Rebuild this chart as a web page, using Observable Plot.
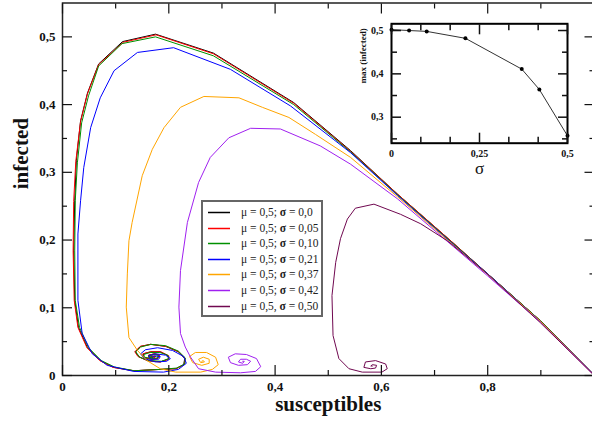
<!DOCTYPE html>
<html><head><meta charset="utf-8">
<script src="https://cdn.jsdelivr.net/npm/d3@7"></script>
<script src="https://cdn.jsdelivr.net/npm/@observablehq/plot@0.6"></script>
<style>
body{margin:0;background:#fff;}
#wrap{position:relative;width:592px;height:424px;overflow:hidden;background:#fff;}
#wrap > svg{position:absolute;}
#legend{position:absolute;left:201px;top:200px;width:122px;height:117px;border:2px solid #666;box-sizing:border-box;background:#fff;font-family:'Liberation Serif','Times New Roman',serif;font-size:11.5px;color:#222;}
#legend svg{position:absolute;left:5px;width:22px;height:4px;overflow:visible;}
#legend .tx{position:absolute;left:38px;line-height:12px;white-space:nowrap;}
</style></head><body><div id="wrap"></div>
<script>
// ---- data ----
const sigmaValues = [0, 0.05, 0.10, 0.21, 0.37, 0.42, 0.50];
const legendLabels = ["μ = 0,5; σ = 0,0", "μ = 0,5; σ = 0,05", "μ = 0,5; σ = 0,10", "μ = 0,5; σ = 0,21", "μ = 0,5; σ = 0,37", "μ = 0,5; σ = 0,42", "μ = 0,5, σ = 0,50"];
const seriesColors = ["#000000", "#ff0000", "#009000", "#0000ff", "#ffa500", "#a020f0", "#700850"];
const maxInfected = [0.502, 0.500, 0.498, 0.482, 0.411, 0.364, 0.257];

const curveSigma000 = [[1.000,0.001],[0.899,0.081],[0.800,0.150],[0.736,0.195],[0.630,0.268],[0.542,0.332],[0.435,0.403],[0.284,0.476],[0.175,0.504],[0.113,0.493],[0.068,0.460],[0.047,0.417],[0.034,0.376],[0.026,0.317],[0.023,0.258],[0.021,0.184],[0.023,0.111],[0.030,0.071],[0.047,0.041],[0.071,0.022],[0.096,0.012],[0.134,0.007],[0.184,0.009],[0.213,0.010],[0.228,0.016],[0.230,0.025],[0.218,0.035],[0.194,0.043],[0.166,0.046],[0.147,0.043],[0.137,0.035],[0.143,0.028],[0.160,0.022],[0.184,0.020],[0.199,0.024],[0.199,0.029],[0.184,0.035],[0.166,0.035],[0.152,0.032],[0.152,0.027],[0.166,0.024],[0.179,0.025],[0.182,0.030],[0.173,0.032],[0.162,0.030],[0.162,0.027],[0.171,0.026],[0.175,0.028],[0.167,0.029],[0.166,0.027]];
const curveSigma005 = [[1.000,0.001],[0.899,0.081],[0.800,0.150],[0.736,0.195],[0.630,0.268],[0.542,0.331],[0.435,0.402],[0.284,0.475],[0.176,0.503],[0.114,0.492],[0.068,0.459],[0.047,0.416],[0.034,0.375],[0.025,0.316],[0.021,0.257],[0.020,0.184],[0.022,0.111],[0.029,0.071],[0.046,0.041],[0.070,0.022],[0.095,0.012],[0.134,0.007],[0.184,0.009],[0.214,0.010],[0.229,0.016],[0.231,0.025],[0.219,0.035],[0.195,0.043],[0.166,0.046],[0.146,0.043],[0.136,0.035],[0.142,0.028],[0.160,0.022],[0.184,0.020],[0.200,0.024],[0.200,0.029],[0.185,0.035],[0.166,0.035],[0.151,0.032],[0.152,0.027],[0.166,0.024],[0.179,0.025],[0.183,0.030],[0.173,0.032],[0.162,0.030],[0.162,0.027],[0.171,0.026],[0.175,0.028],[0.167,0.029],[0.166,0.027]];
const curveSigma010 = [[1.000,0.001],[0.899,0.081],[0.800,0.150],[0.736,0.194],[0.630,0.267],[0.542,0.330],[0.435,0.400],[0.284,0.472],[0.175,0.500],[0.112,0.490],[0.068,0.457],[0.049,0.413],[0.036,0.373],[0.028,0.314],[0.024,0.258],[0.023,0.184],[0.024,0.111],[0.032,0.071],[0.049,0.041],[0.073,0.022],[0.098,0.0125],[0.135,0.007],[0.185,0.009],[0.215,0.011],[0.230,0.017],[0.231,0.026],[0.218,0.036],[0.194,0.044],[0.166,0.046],[0.147,0.042],[0.138,0.035],[0.145,0.027],[0.162,0.022],[0.186,0.021],[0.200,0.025],[0.198,0.030],[0.183,0.034],[0.165,0.034],[0.153,0.031],[0.154,0.027],[0.168,0.025],[0.179,0.026],[0.180,0.030],[0.170,0.031],[0.162,0.029],[0.164,0.027],[0.170,0.027],[0.168,0.028],[0.165,0.027]];
const curveSigma021 = [[1.000,0.001],[0.899,0.080],[0.800,0.150],[0.736,0.193],[0.630,0.266],[0.542,0.329],[0.429,0.398],[0.316,0.452],[0.209,0.484],[0.141,0.477],[0.097,0.450],[0.071,0.410],[0.053,0.366],[0.040,0.307],[0.034,0.258],[0.029,0.209],[0.029,0.111],[0.037,0.062],[0.056,0.032],[0.084,0.015],[0.134,0.006],[0.190,0.005],[0.218,0.009],[0.233,0.018],[0.228,0.028],[0.207,0.037],[0.179,0.041],[0.156,0.038],[0.147,0.032],[0.154,0.025],[0.175,0.020],[0.196,0.021],[0.203,0.025],[0.194,0.030],[0.175,0.032],[0.162,0.029],[0.166,0.024],[0.181,0.024],[0.184,0.028],[0.173,0.029],[0.169,0.027]];
const curveSigma037 = [[1.000,0.0006],[0.899,0.080],[0.800,0.149],[0.736,0.192],[0.630,0.264],[0.542,0.322],[0.476,0.356],[0.426,0.381],[0.376,0.396],[0.332,0.410],[0.266,0.412],[0.222,0.396],[0.191,0.366],[0.169,0.334],[0.150,0.295],[0.131,0.226],[0.125,0.199],[0.122,0.150],[0.120,0.101],[0.125,0.056],[0.141,0.037],[0.159,0.022],[0.184,0.010],[0.213,0.005],[0.260,0.005],[0.282,0.009],[0.293,0.016],[0.288,0.027],[0.271,0.034],[0.250,0.034],[0.239,0.028],[0.245,0.019],[0.262,0.015],[0.276,0.018],[0.276,0.024],[0.265,0.027],[0.256,0.024],[0.260,0.019],[0.267,0.020],[0.265,0.022],[0.262,0.021]];
const curveSigma042 = [[1.000,0.0005],[0.899,0.079],[0.800,0.147],[0.736,0.190],[0.630,0.261],[0.542,0.312],[0.485,0.339],[0.410,0.364],[0.354,0.365],[0.313,0.351],[0.278,0.322],[0.256,0.285],[0.235,0.226],[0.222,0.155],[0.219,0.101],[0.222,0.062],[0.231,0.042],[0.241,0.027],[0.256,0.010],[0.288,0.005],[0.335,0.004],[0.363,0.006],[0.373,0.013],[0.365,0.025],[0.346,0.031],[0.325,0.032],[0.312,0.027],[0.316,0.019],[0.331,0.015],[0.348,0.016],[0.354,0.021],[0.346,0.024],[0.335,0.024],[0.331,0.020],[0.339,0.018],[0.342,0.021],[0.339,0.021]];
const curveSigma050 = [[1.000,0.0003],[0.899,0.078],[0.799,0.150],[0.724,0.199],[0.674,0.224],[0.636,0.238],[0.586,0.253],[0.551,0.247],[0.536,0.231],[0.523,0.202],[0.514,0.167],[0.507,0.118],[0.509,0.059],[0.520,0.025],[0.539,0.010],[0.564,0.005],[0.601,0.005],[0.611,0.010],[0.608,0.017],[0.589,0.022],[0.570,0.020],[0.567,0.012],[0.580,0.010],[0.589,0.011],[0.591,0.015],[0.583,0.016],[0.580,0.014],[0.583,0.014]];

const xMajor = [0, 0.2, 0.4, 0.6, 0.8, 1];
const xLabels = [0, 0.2, 0.4, 0.6, 0.8];
const xMinor = [0.1, 0.3, 0.5, 0.7, 0.9];
const yMajor = [0, 0.1, 0.2, 0.3, 0.4, 0.5];
const yMinor = [0.05, 0.15, 0.25, 0.35, 0.45];
const insetXMajor = [0, 0.25, 0.5];
const insetXMinor = [0.0833, 0.1667, 0.3333, 0.4167];
const insetYMajor = [0.3, 0.4, 0.5];
const insetYMinor = [0.25, 0.35, 0.45];

// ---- build ----
const curves = [curveSigma000, curveSigma005, curveSigma010, curveSigma021, curveSigma037, curveSigma042, curveSigma050];
const table = curves.flatMap((pts, k) => pts.map(([s, i]) => ({s, i, series: legendLabels[k]})));
const insetTable = sigmaValues.map((sigma, k) => ({sigma, max: maxInfected[k]}));
const fmt = d => d === 0 ? "0" : d3.format("~g")(d).replace(".", ",");
const serif = "'Liberation Serif','Times New Roman',serif";

function ticks(axis, anchor, values, size, w) {
  return axis(values, {anchor, tickSize: -size, fill: "none", label: null, strokeWidth: w});
}

const main = Plot.plot({
  width: 592, height: 424,
  marginLeft: 62, marginRight: -1.5, marginTop: 2.5, marginBottom: 49,
  x: {domain: [0, 1]},
  y: {domain: [0, 0.55]},
  color: {domain: legendLabels, range: seriesColors},
  style: {fontFamily: serif, fontSize: "13px", fontWeight: "bold", background: "white", color: "#111"},
  marks: [
    Plot.line(table, {x: "s", y: "i", z: "series", stroke: "series", strokeWidth: 1}),
    Plot.frame({stroke: "#222", strokeWidth: 1.5}),
    ticks(Plot.axisX, "bottom", xMajor, 10, 1.2), ticks(Plot.axisX, "bottom", xMinor, 5, 1.2),
    ticks(Plot.axisX, "top", xMajor, 10, 1.2), ticks(Plot.axisX, "top", xMinor, 5, 1.2),
    ticks(Plot.axisY, "left", yMajor, 10, 1.2), ticks(Plot.axisY, "left", yMinor, 5, 1.2),
    ticks(Plot.axisY, "right", yMajor, 10, 1.2), ticks(Plot.axisY, "right", yMinor, 5, 1.2),
    Plot.axisX(xLabels, {anchor: "bottom", tickSize: 0, tickPadding: 6, tickFormat: fmt, label: null}),
    Plot.axisY(yMajor, {anchor: "left", tickSize: 0, tickPadding: 7, tickFormat: fmt, label: null}),
    Plot.text(["susceptibles"], {frameAnchor: "bottom", dy: 35, fontSize: 21, fontWeight: "bold"}),
    Plot.text(["infected"], {frameAnchor: "left", dx: -41, rotate: -90, fontSize: 21, fontWeight: "bold"})
  ]
});

const inset = Plot.plot({
  width: 252, height: 180,
  marginLeft: 51, marginRight: 25, marginTop: 23.3, marginBottom: 37.3,
  x: {domain: [0, 0.5]},
  y: {domain: [0.24, 0.5155]},
  style: {fontFamily: serif, fontSize: "10px", fontWeight: "bold", background: "transparent", color: "#111"},
  marks: [
    Plot.line(insetTable, {x: "sigma", y: "max", stroke: "#333", strokeWidth: 1}),
    Plot.dot(insetTable, {x: "sigma", y: "max", r: 2, fill: "#000", stroke: "none"}),
    Plot.frame({stroke: "#000", strokeWidth: 2}),
    ticks(Plot.axisX, "bottom", insetXMajor, 10, 1.5), ticks(Plot.axisX, "bottom", insetXMinor, 6, 1.5),
    ticks(Plot.axisX, "top", insetXMajor, 10, 1.5), ticks(Plot.axisX, "top", insetXMinor, 6, 1.5),
    ticks(Plot.axisY, "left", insetYMajor, 10, 1.5), ticks(Plot.axisY, "left", insetYMinor, 6, 1.5),
    ticks(Plot.axisY, "right", insetYMajor, 10, 1.5), ticks(Plot.axisY, "right", insetYMinor, 6, 1.5),
    Plot.axisX(insetXMajor, {anchor: "bottom", tickSize: 0, tickPadding: 7, tickFormat: fmt, label: null}),
    Plot.axisY(insetYMajor, {anchor: "left", tickSize: 0, tickPadding: 8, tickFormat: fmt, label: null}),
    Plot.text(["σ"], {frameAnchor: "bottom", dy: 31, fontSize: 17, fontWeight: "normal"}),
    Plot.text(["max (infected)"], {frameAnchor: "left", dx: -28, rotate: -90, fontSize: 9, fontWeight: "bold"})
  ]
});

const wrap = document.getElementById("wrap");
main.style.left = "0px"; main.style.top = "0px";
inset.style.left = "340px"; inset.style.top = "0px";
wrap.appendChild(main);
wrap.appendChild(inset);

const legend = document.createElement("div");
legend.id = "legend";
legendLabels.forEach((lab, k) => {
  const y = Math.round(10 + 15.6 * k);
  const sw = d3.create("svg").style("top", (y - 2) + "px");
  sw.append("line").attr("x1", 0).attr("x2", 22).attr("y1", 2.5).attr("y2", 2.5)
    .attr("stroke", seriesColors[k]).attr("stroke-width", 1.5);
  const tx = document.createElement("div");
  tx.className = "tx"; tx.style.top = (y - 6) + "px";
  tx.innerHTML = lab.replace("σ", "<b>σ</b>");
  legend.appendChild(sw.node()); legend.appendChild(tx);
});
wrap.appendChild(legend);
</script></body></html>
